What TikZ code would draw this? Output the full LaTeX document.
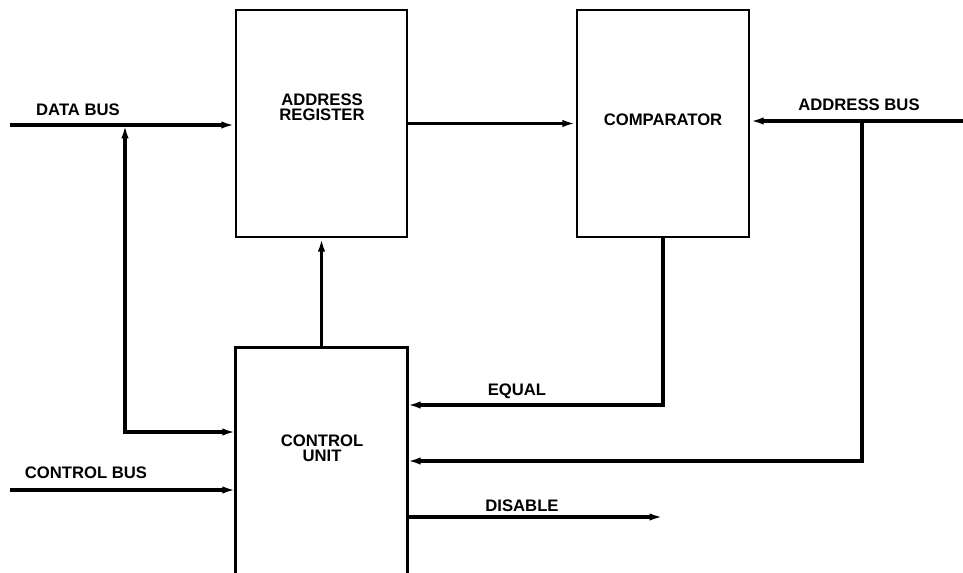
\documentclass[tikz,border=0pt]{standalone}
\usepackage{fontspec}
\setmainfont{Liberation Sans}
\usetikzlibrary{arrows.meta,fit}
\begin{document}
\begin{tikzpicture}[x=0.75pt,y=-0.75pt,
  box/.style={draw=black,line width=1.9pt,inner sep=0pt},
  tip/.style={Latex[length=10pt,width=5.5pt]},
  conn/.style={draw=black,line width=2.5pt,-{Latex[length=10pt,width=5.5pt]}},
  lbl/.style={font=\bfseries\fontsize{12.5}{11.5}\selectfont,inner sep=0pt,align=center}]
\useasboundingbox (0,0) rectangle (963,573);
\clip (0,0) rectangle (963,573);
% blocks
\node[box,fit={(236,10) (407,237)}] (ar) {};
\node[box,fit={(577,10) (749,237)}] (cmp) {};
\node[inner sep=0pt,fit={(236,348) (407,600)}] (cu) {};
\draw[line width=1.9pt] (cu.south west) -- (cu.north west) -- (cu.north east) -- (cu.south east);
% block texts
\node[lbl] (artext) at (322,107) {ADDRESS\\REGISTER};
\node[lbl] (cmptext) at (663,120) {COMPARATOR};
\node[lbl] (cutext) at (322,448) {CONTROL\\UNIT};
% points
\coordinate (dbL) at (10,125);
\coordinate (j1) at (125,125);
\coordinate (c1) at (125,432);
\coordinate (abR) at (963,121);
\coordinate (j2) at (862,121);
\coordinate (c2) at (862,461);
\coordinate (c3) at (663,405);
\coordinate (cbL) at (10,490);
\coordinate (dis) at (663,517);
% connectors
\draw[conn] (dbL) -- (dbL -| ar.west);
\draw[conn,{Latex[length=10pt,width=5.5pt]}-{Latex[length=10pt,width=5.5pt]}] (j1) -- (c1) -- (c1 -| cu.west);
\draw[conn] (ar.east) -- (cmp.west);
\draw[conn] (abR) -- (abR -| cmp.east);
\draw[conn] (j2) -- (c2) -- (c2 -| cu.east);
\draw[conn] (cmp.south) -- (c3) -- (c3 -| cu.east);
\draw[conn] (cu.north) -- (ar.south);
\draw[conn] (cbL) -- (cbL -| cu.west);
\draw[conn] (dis -| cu.east) -- (dis);
% connector labels
\node[lbl] (dblbl) at (78,110) {DATA BUS};
\node[lbl] (ablbl) at (859,105) {ADDRESS BUS};
\node[lbl] (eqlbl) at (517,391) {EQUAL};
\node[lbl] (cblbl) at (86,473) {CONTROL BUS};
\node[lbl] (dislbl) at (522,506) {DISABLE};
\end{tikzpicture}
\end{document}
